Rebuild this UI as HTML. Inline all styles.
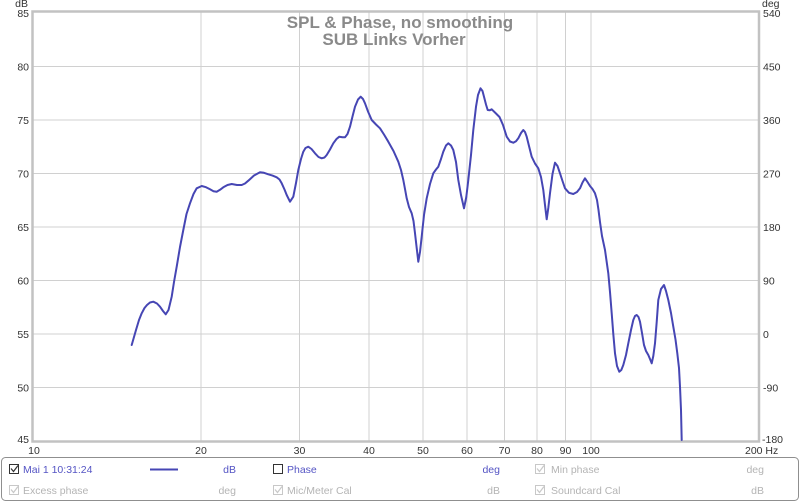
<!DOCTYPE html>
<html>
<head>
<meta charset="utf-8">
<style>
  html,body{margin:0;padding:0;background:#fff;}
  svg{display:block;}
  text{font-family:"Liberation Sans",Arial,sans-serif;}
</style>
</head>
<body>
<svg width="800" height="503" viewBox="0 0 800 503" xmlns="http://www.w3.org/2000/svg">
  <rect x="0" y="0" width="800" height="503" fill="#fff"/>

  <!-- horizontal gridlines -->
  <g stroke="#d0d0d0" stroke-width="1">
    <line x1="33" y1="66.5" x2="759" y2="66.5"/>
    <line x1="33" y1="120" x2="759" y2="120"/>
    <line x1="33" y1="173.5" x2="759" y2="173.5"/>
    <line x1="33" y1="227" x2="759" y2="227"/>
    <line x1="33" y1="280.5" x2="759" y2="280.5"/>
    <line x1="33" y1="334" x2="759" y2="334"/>
    <line x1="33" y1="387.5" x2="759" y2="387.5"/>
    <!-- vertical gridlines -->
    <line x1="201" y1="12" x2="201" y2="441"/>
    <line x1="299.5" y1="12" x2="299.5" y2="441"/>
    <line x1="369" y1="12" x2="369" y2="441"/>
    <line x1="423" y1="12" x2="423" y2="441"/>
    <line x1="467" y1="12" x2="467" y2="441"/>
    <line x1="504.5" y1="12" x2="504.5" y2="441"/>
    <line x1="537" y1="12" x2="537" y2="441"/>
    <line x1="565.5" y1="12" x2="565.5" y2="441"/>
    <line x1="591" y1="12" x2="591" y2="441"/>
  </g>

  <!-- plot frame -->
  <rect x="32.5" y="11.5" width="726.5" height="430" fill="none" stroke="#c2c2c2" stroke-width="2.5"/>

  <!-- title -->
  <text x="400" y="28" font-size="17" font-weight="bold" fill="#8a8a8a" text-anchor="middle">SPL &amp; Phase, no smoothing</text>
  <text x="394" y="45" font-size="17" font-weight="bold" fill="#8a8a8a" text-anchor="middle">SUB Links Vorher</text>

  <!-- left axis labels -->
  <g font-size="10.5" fill="#333" text-anchor="end">
    <text x="28" y="7">dB</text>
    <text x="29" y="17">85</text>
    <text x="29" y="70.5">80</text>
    <text x="29" y="124">75</text>
    <text x="29" y="177.5">70</text>
    <text x="29" y="231">65</text>
    <text x="29" y="284.5">60</text>
    <text x="29" y="338">55</text>
    <text x="29" y="391.5">50</text>
    <text x="29" y="443">45</text>
  </g>

  <!-- right axis labels -->
  <g font-size="10.5" fill="#333" text-anchor="start">
    <text x="762" y="7">deg</text>
    <text x="763" y="17">540</text>
    <text x="763" y="70.5">450</text>
    <text x="763" y="124">360</text>
    <text x="763" y="177.5">270</text>
    <text x="763" y="231">180</text>
    <text x="763" y="284.5">90</text>
    <text x="763" y="338">0</text>
    <text x="763" y="391.5">-90</text>
    <text x="762" y="443">-180</text>
  </g>

  <!-- x axis labels -->
  <g font-size="10.5" fill="#333" text-anchor="middle">
    <text x="34" y="454">10</text>
    <text x="201" y="454">20</text>
    <text x="299.5" y="454">30</text>
    <text x="369" y="454">40</text>
    <text x="423" y="454">50</text>
    <text x="467" y="454">60</text>
    <text x="504.5" y="454">70</text>
    <text x="537" y="454">80</text>
    <text x="565.5" y="454">90</text>
    <text x="591" y="454">100</text>
    <text x="745" y="454" text-anchor="start">200 Hz</text>
  </g>

  <!-- SPL curve -->
  <polyline fill="none" stroke="#4646b4" stroke-width="2" stroke-linejoin="round" stroke-linecap="round"
    points="131.7,345 136,330 139,320 141.7,313.3 144.5,308 147,305 150,302.5 153.3,301.7 157,303.5 160,306.7 163,311 165.7,314.3 168.5,310 171.7,296.7 174,282 176.7,266.7 180,247 183.3,230 186.5,214 190,203.3 193.5,194 196.7,188.3 201.7,186 206,187.2 210,189.3 213.5,191.2 216.7,191.7 220,189.8 223.3,187.3 227.5,185 231.7,184 237,185 241.7,185 245,183.5 248.3,180.7 254,175.5 260,172.3 264,172.8 268.3,174.3 272.5,175.6 276.7,177.3 279.5,179.5 281.7,183.3 284.5,189.5 286.7,195 290,201.7 293.3,196.7 296,183 298.3,170 301,159 303.3,151.7 305.5,148 308.3,146.7 311.5,149 315,153.3 318.5,157 321.7,158.3 324.5,157.5 326.7,155 330,149.5 333.3,143.3 336.5,139 339.3,136.7 342.5,137.2 345,137.3 347.5,134 350,126.7 352.5,116.5 355,106.7 358,99.5 360.7,96.7 363,99 365,103.3 368,111.5 371.7,120 376,124.5 380,128.3 384,134.5 388.3,141.7 393.5,151 398.3,161.7 401,170 403.3,180 405,189 406.7,198.3 409,207 411.7,213.3 413.5,221 415,233.3 416.7,248 418.3,261.7 420,252 421.7,236.7 424,215 426.7,198.3 430,184 433.3,173.3 436,169.5 438.3,166.7 441,159 443.3,151.7 446,145.5 448.3,143.3 451,145.5 453.3,150 456,162 458.3,180 461,195 464,208.3 466.3,197 468.3,180 471,155 473.3,130 476,106.7 478,95 480.5,88.3 482.5,91 484,96.7 486,104.5 487.7,110 489.7,110.3 491.7,109.3 495.5,113 499.5,117 503,125 506.7,136.7 510,141.5 513.3,142.7 516,141.2 518.3,138.3 521,133 523.3,130 525,132 526.7,136.7 529,146 531.7,156.7 535,163.5 538.3,168.3 541,177 543.3,190 545,205 546.7,219.3 548.3,208 550,193.3 552.5,174 555,162.7 557.5,166 560,173.3 562.5,181 565,188.3 569,192.8 573.3,194 577,192 580,188.3 582.5,182.5 585,178.3 587.5,182 590,186 592.5,189 595,193.3 597,200 598.5,210 600,222 602,236 605,250 608.3,273.3 610,292 611.7,313.3 613.3,334 615,353.3 617,366 619.3,371.7 621.3,370 623.3,365 626,355 628.3,343.3 631,330 633.3,320 635,316 636.7,315 638.5,317 640,321.7 642,333 644,345 646,351 648.3,355 650,359 651.7,363.3 653.3,356 655,343.3 656.7,322 658.3,300 661,289 664,285 666,291 668.3,300 671,313 673.3,326.7 675.5,339.5 677.3,353.3 679,368 680,386.7 681,410 681.7,440"/>

  <!-- legend box -->
  <rect x="1.5" y="457.5" width="797" height="43" rx="4" ry="4" fill="#fff" stroke="#8f8f8f" stroke-width="1"/>

  <!-- row 1 -->
  <rect x="9.5" y="464.5" width="9" height="9" fill="#fff" stroke="#333" stroke-width="1"/>
  <polyline points="11,468.5 13.5,471.5 18,465.5" fill="none" stroke="#333" stroke-width="1.2"/>
  <text x="23" y="473" font-size="10.5" fill="#5454c4">Mai 1 10:31:24</text>
  <line x1="150" y1="469.5" x2="178" y2="469.5" stroke="#4646b4" stroke-width="2"/>
  <text x="236" y="473" font-size="10.5" fill="#5454c4" text-anchor="end">dB</text>
  <rect x="273.5" y="464.5" width="9" height="9" fill="#fff" stroke="#333" stroke-width="1"/>
  <text x="287" y="473" font-size="10.5" fill="#5454c4">Phase</text>
  <text x="500" y="473" font-size="10.5" fill="#5454c4" text-anchor="end">deg</text>
  <rect x="535.5" y="464.5" width="9" height="9" fill="#fff" stroke="#c8c8c8" stroke-width="1"/>
  <polyline points="537,468.5 539.5,471.5 544,465.5" fill="none" stroke="#c8c8c8" stroke-width="1.2"/>
  <text x="551" y="473" font-size="10.5" fill="#b4b4b4">Min phase</text>
  <text x="764" y="473" font-size="10.5" fill="#b4b4b4" text-anchor="end">deg</text>

  <!-- row 2 -->
  <rect x="9.5" y="485.5" width="9" height="9" fill="#fff" stroke="#c8c8c8" stroke-width="1"/>
  <polyline points="11,489.5 13.5,492.5 18,486.5" fill="none" stroke="#c8c8c8" stroke-width="1.2"/>
  <text x="23" y="494" font-size="10.5" fill="#b4b4b4">Excess phase</text>
  <text x="236" y="494" font-size="10.5" fill="#b4b4b4" text-anchor="end">deg</text>
  <rect x="273.5" y="485.5" width="9" height="9" fill="#fff" stroke="#c8c8c8" stroke-width="1"/>
  <polyline points="275,489.5 277.5,492.5 282,486.5" fill="none" stroke="#c8c8c8" stroke-width="1.2"/>
  <text x="287" y="494" font-size="10.5" fill="#b4b4b4">Mic/Meter Cal</text>
  <text x="500" y="494" font-size="10.5" fill="#b4b4b4" text-anchor="end">dB</text>
  <rect x="535.5" y="485.5" width="9" height="9" fill="#fff" stroke="#c8c8c8" stroke-width="1"/>
  <polyline points="537,489.5 539.5,492.5 544,486.5" fill="none" stroke="#c8c8c8" stroke-width="1.2"/>
  <text x="551" y="494" font-size="10.5" fill="#b4b4b4">Soundcard Cal</text>
  <text x="764" y="494" font-size="10.5" fill="#b4b4b4" text-anchor="end">dB</text>
</svg>
</body>
</html>
